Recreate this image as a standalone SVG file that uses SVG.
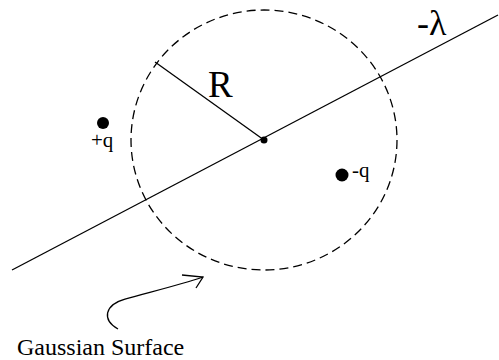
<svg xmlns="http://www.w3.org/2000/svg" width="499" height="360" viewBox="0 0 499 360">
<style>
.ln{fill:none;stroke:#000;stroke-width:1.3}
.dash{fill:none;stroke:#000;stroke-width:1.3;stroke-dasharray:9,5}
text{font-family:'Liberation Serif','Times New Roman','DejaVu Serif',serif;fill:#000}
</style>
<rect width="499" height="360" fill="#fff"/>
<g id="surface">
<ellipse class="dash" cx="264" cy="140" rx="133" ry="130"/>
</g>
<g id="line-charge">
<line class="ln" x1="12" y1="270" x2="498" y2="15"/>
<text x="417" y="35" font-size="36" font-family="Liberation Serif, serif">-λ</text>
</g>
<g id="center">
<circle cx="264" cy="140" r="3.5" fill="#000"/>
</g>
<g id="radius">
<line class="ln" x1="155" y1="62" x2="264" y2="140"/>
<text x="208" y="97" font-size="37" font-family="Liberation Serif, serif">R</text>
</g>
<g id="plus-q">
<circle cx="103" cy="123" r="6" fill="#000"/>
<text x="91" y="147" font-size="21" font-family="Liberation Serif, serif">+q</text>
</g>
<g id="minus-q">
<circle cx="342" cy="175" r="6.5" fill="#000"/>
<text x="352" y="177" font-size="21" font-family="Liberation Serif, serif">-q</text>
</g>
<g id="connectors">
<path class="ln" d="M118,329 C102,320 104,305 125,299 C150,292 180,285 203,277"/>
<polyline class="ln" points="182,275 203,277 196,288"/>
</g>
<g id="label">
<text x="17" y="355" font-size="24" font-family="Liberation Serif, serif">Gaussian Surface</text>
</g>
</svg>
